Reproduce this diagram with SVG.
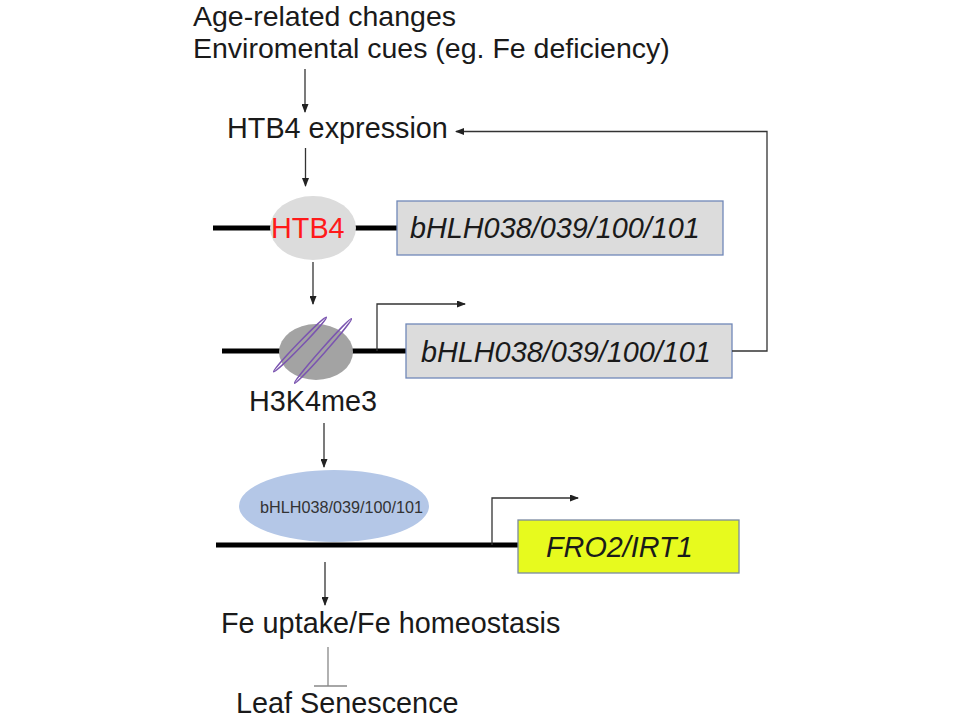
<svg xmlns="http://www.w3.org/2000/svg" width="960" height="720" viewBox="0 0 960 720">
<defs>
<marker id="ah" markerUnits="userSpaceOnUse" markerWidth="9" markerHeight="7" refX="8" refY="3.5" orient="auto">
<path d="M0,0 L9,3.5 L0,7 z" fill="#222"/>
</marker>
<style>
text{font-family:"Liberation Sans",Arial,sans-serif;fill:#1a1a1a}
.t{font-size:28.8px}
.top{font-size:28.5px}
.it{font-size:28.8px;font-style:italic}
.dna{stroke:#000;stroke-width:5;fill:none}
.arr{stroke:#333;stroke-width:1.3;fill:none;marker-end:url(#ah)}
.gene{fill:#dcdcdc;stroke:#7088b8;stroke-width:1.3}
.me{fill:none;stroke:#7b55b0;stroke-width:1.5}
</style>
</defs>
<rect width="960" height="720" fill="#fff"/>

<g id="cues">
<text class="top" x="193" y="26">Age-related changes</text>
<text class="top" x="193" y="58">Enviromental cues (eg. Fe deficiency)</text>
</g>
<g id="htb4-expression">
<text class="t" x="227" y="138">HTB4 expression</text>
</g>

<g id="row1">
<line class="dna" x1="213" y1="228" x2="397" y2="228"/>
<ellipse cx="313" cy="228" rx="43" ry="32" fill="#dcdcdc"/>
<text x="271" y="238" style="font-size:28.8px;fill:#ff1a1a">HTB4</text>
<rect class="gene" x="397" y="201" width="326" height="54"/>
<text class="it" x="410" y="238">bHLH038/039/100/101</text>
</g>

<g id="row2">
<line class="dna" x1="222" y1="351" x2="406" y2="351"/>
<ellipse cx="316" cy="352" rx="37" ry="28" fill="#a3a3a3"/>
<ellipse class="me" cx="300" cy="344.5" rx="38" ry="2.2" transform="rotate(-46 300 344.5)"/>
<ellipse class="me" cx="323" cy="351" rx="43" ry="2.2" transform="rotate(-48.5 323 351)"/>
<rect class="gene" x="406" y="324" width="326" height="54"/>
<text class="it" x="421" y="362">bHLH038/039/100/101</text>
<text class="t" x="249" y="411">H3K4me3</text>
</g>

<g id="row3">
<line class="dna" x1="216" y1="545" x2="518" y2="545"/>
<ellipse cx="334" cy="506" rx="95" ry="36" fill="#b4c7e7"/>
<text x="260" y="513" style="font-size:16.2px;fill:#333">bHLH038/039/100/101</text>
<rect x="518" y="520" width="221" height="53" fill="#e7fa1e" stroke="#7a8aa0" stroke-width="1.3"/>
<text class="it" x="546" y="557">FRO2/IRT1</text>
</g>

<g id="fe-uptake">
<text class="t" x="221" y="633">Fe uptake/Fe homeostasis</text>
</g>
<g id="leaf-senescence">
<text class="t" x="236" y="713">Leaf Senescence</text>
</g>

<g id="connectors">
<line class="arr" x1="305" y1="69" x2="305" y2="112"/>
<line class="arr" x1="305.5" y1="148" x2="305.5" y2="186"/>
<line class="arr" x1="313" y1="262" x2="313" y2="304"/>
<line class="arr" x1="324" y1="423" x2="324" y2="467"/>
<line class="arr" x1="325" y1="562" x2="325" y2="605"/>
<path class="arr" d="M377 351 V304 H465"/>
<path class="arr" d="M492 545 V498 H578"/>
<path class="arr" d="M732 351 H767 V131.5 H456"/>
<line x1="328" y1="647" x2="328" y2="686" stroke="#888" stroke-width="1.3"/>
<line x1="314" y1="686" x2="347" y2="686" stroke="#888" stroke-width="1.5"/>
</g>
</svg>
